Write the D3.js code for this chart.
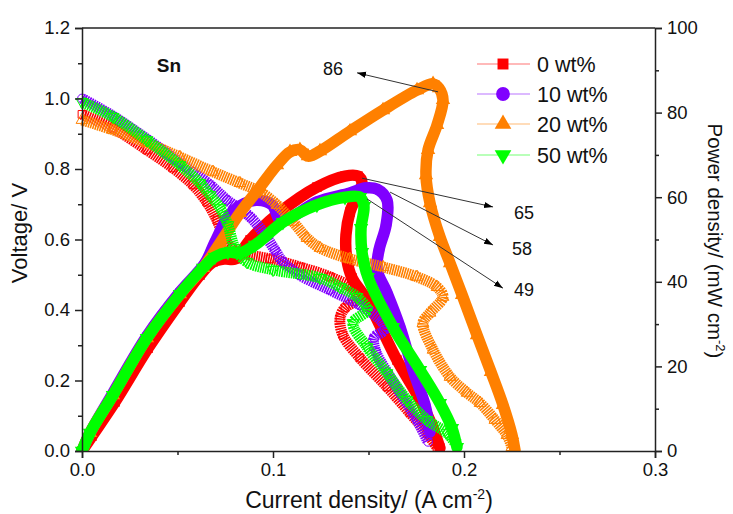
<!DOCTYPE html>
<html><head><meta charset="utf-8">
<script src="https://cdn.jsdelivr.net/npm/d3@7"></script>
<style>body{margin:0;background:#fff} svg{display:block;font-family:"Liberation Sans",Arial,sans-serif}</style>
</head><body><svg id="c" width="733" height="514"></svg>
<script>
const seriesNames = ["0 wt%", "10 wt%", "20 wt%", "50 wt%"];
const seriesColors = ["#ff0000", "#8000ff", "#ff8000", "#00ff00"];
const xTicks = [0, 0.1, 0.2, 0.3];
const xMinor = [0.05, 0.15, 0.25];
const vTicks = [0, 0.2, 0.4, 0.6, 0.8, 1.0, 1.2];
const vMinor = [0.1, 0.3, 0.5, 0.7, 0.9, 1.1];
const pTicks = [0, 20, 40, 60, 80, 100];
const pMinor = [10, 30, 50, 70, 90];

// 0 wt%
const v0_I = [0, 0.0162, 0.034, 0.0476, 0.0581, 0.0654, 0.0707, 0.0738, 0.0785, 0.0853, 0.0984, 0.1141, 0.1298, 0.1414, 0.1445, 0.1377, 0.1351, 0.1366, 0.1455, 0.1597, 0.1717, 0.1806, 0.1859];
const v0_V = [0.955, 0.916, 0.854, 0.803, 0.755, 0.706, 0.655, 0.613, 0.576, 0.559, 0.545, 0.522, 0.494, 0.462, 0.434, 0.406, 0.377, 0.329, 0.264, 0.182, 0.108, 0.051, 0.011];
const p0_I = [0, 0.0052, 0.0173, 0.0346, 0.0513, 0.0618, 0.0686, 0.0749, 0.0801, 0.0880, 0.1037, 0.1230, 0.1377, 0.1445, 0.1466, 0.1435, 0.1403, 0.1382, 0.1387, 0.1414, 0.1492, 0.1649, 0.1770, 0.1832, 0.1874];
const p0_P = [0, 3.5, 11.6, 24.3, 35.2, 41.6, 44.7, 45.4, 45.4, 49.9, 56.5, 62.4, 65.0, 65.0, 63.4, 60.0, 56.5, 51.1, 45.2, 40.9, 35.7, 21.5, 12.1, 6.1, 0.7];
// 10 wt%
const v1_I = [0, 0.0162, 0.034, 0.0513, 0.0581, 0.067, 0.0759, 0.088, 0.0958, 0.101, 0.1052, 0.1141, 0.1298, 0.1455, 0.1571, 0.1581, 0.1529, 0.1539, 0.1597, 0.1665, 0.1754, 0.1812];
const v1_V = [1.0, 0.950, 0.885, 0.817, 0.792, 0.755, 0.712, 0.664, 0.613, 0.570, 0.536, 0.499, 0.457, 0.414, 0.366, 0.343, 0.321, 0.281, 0.224, 0.165, 0.088, 0.026];
const p1_I = [0, 0.0042, 0.0162, 0.034, 0.0513, 0.0644, 0.0696, 0.0775, 0.0853, 0.0921, 0.0995, 0.1037, 0.1089, 0.123, 0.1403, 0.1482, 0.1545, 0.1597, 0.1592, 0.1555, 0.1545, 0.1597, 0.1665, 0.1733, 0.1796, 0.1822];
const p1_P = [0, 4.3, 13.7, 27.2, 37.6, 44.4, 49.4, 56.0, 58.6, 59.3, 58.2, 54.6, 55.1, 58.9, 61.0, 62.2, 61.9, 59.3, 53.4, 47.5, 42.8, 37.4, 29.3, 19.1, 10.9, 4.5];
// 20 wt%
const v2_I = [0, 0.0162, 0.034, 0.0513, 0.0686, 0.0827, 0.0932, 0.1021, 0.1105, 0.1178, 0.1246, 0.1403, 0.1576, 0.1754, 0.1859, 0.189, 0.1822, 0.1785, 0.1838, 0.1927, 0.2016, 0.2084, 0.2162, 0.2225, 0.2251];
const v2_V = [0.939, 0.911, 0.874, 0.834, 0.792, 0.760, 0.735, 0.698, 0.650, 0.604, 0.576, 0.545, 0.522, 0.494, 0.465, 0.437, 0.392, 0.363, 0.287, 0.210, 0.165, 0.136, 0.088, 0.045, 0.011];
const p2_I = [0, 0.0042, 0.0162, 0.034, 0.0513, 0.0634, 0.0723, 0.0827, 0.0932, 0.1021, 0.1089, 0.1141, 0.1183, 0.1246, 0.1403, 0.1576, 0.1754, 0.1838, 0.1869, 0.189, 0.1859, 0.1812, 0.1801, 0.1822, 0.1874, 0.1927, 0.199, 0.2068, 0.2141, 0.2204, 0.2251, 0.2267];
const p2_P = [0, 4.3, 13.2, 26.7, 37.1, 43.3, 49.2, 56.3, 62.4, 67.6, 70.7, 71.2, 69.7, 70.9, 75.6, 80.6, 85.3, 86.8, 85.8, 83.0, 77.1, 71.2, 65.2, 58.6, 50.6, 44.4, 36.9, 27.4, 18.7, 10.9, 3.8, 0.2];
// 50 wt%
const v3_I = [0, 0.0162, 0.034, 0.0513, 0.0618, 0.067, 0.0723, 0.0764, 0.0801, 0.0864, 0.1, 0.1246, 0.1351, 0.144, 0.1492, 0.1419, 0.1492, 0.1597, 0.1702, 0.1806, 0.1911, 0.1953];
const v3_V = [0.99, 0.948, 0.882, 0.811, 0.760, 0.726, 0.689, 0.641, 0.576, 0.536, 0.514, 0.491, 0.465, 0.437, 0.400, 0.363, 0.295, 0.221, 0.145, 0.088, 0.051, 0.023];
const p3_I = [0, 0.0042, 0.0162, 0.034, 0.0513, 0.0634, 0.0696, 0.0764, 0.0827, 0.0906, 0.1052, 0.123, 0.1377, 0.1455, 0.1476, 0.1461, 0.1466, 0.1497, 0.1628, 0.177, 0.1874, 0.1937, 0.1963];
const p3_P = [0, 4.3, 13.2, 26.7, 37.1, 43.3, 45.9, 47.0, 46.8, 48.7, 54.1, 58.2, 60.0, 60.0, 57.9, 52.7, 47.0, 41.1, 29.3, 19.1, 11.3, 5.4, 0.9];

// peak annotations
const annLabels = ["86", "65", "58", "49"];
const annFrom = [[0.1864, 84.9], [0.1466, 64.5], [0.1613, 61.2], [0.1492, 59.6]];
const annTo = [[0.144, 89.4], [0.2152, 57.7], [0.2152, 48.7], [0.2204, 38.5]];
const annAt = [[0.1314, 90.3], [0.2314, 56.3], [0.2304, 47.8], [0.2314, 38.1]];

const svg = d3.select("#c");
const L = 82, R = 655, T = 28, B = 451;
const x = d3.scaleLinear([0, 0.3], [L, R]);
const yV = d3.scaleLinear([0, 1.2], [B, T]);
const yP = d3.scaleLinear([0, 100], [B, T]);

const symbols = [d3.symbolSquare, d3.symbolCircle, d3.symbolTriangle, d3.symbolTriangle];
const rot = [0, 0, 0, 180];

const series = seriesNames.map((n, i) => ({
  name: n, color: seriesColors[i], sym: symbols[i], rot: rot[i],
  v: [v0_I, v1_I, v2_I, v3_I][i].map((c, j) => [c, [v0_V, v1_V, v2_V, v3_V][i][j]]),
  p: [p0_I, p1_I, p2_I, p3_I][i].map((c, j) => [c, [p0_P, p1_P, p2_P, p3_P][i][j]])
}));

const defs = svg.append("defs");
defs.append("clipPath").attr("id", "clip")
  .append("rect").attr("x", L - 12).attr("y", T - 5).attr("width", R - L + 20).attr("height", B - T + 5);
defs.append("marker").attr("id", "arr").attr("viewBox", "0 0 10 10")
  .attr("refX", 10).attr("refY", 5).attr("markerWidth", 9).attr("markerHeight", 9)
  .attr("orient", "auto").attr("markerUnits", "userSpaceOnUse")
  .append("path").attr("d", "M0,1.5 L10,5 L0,8.5 Z").attr("fill", "#000");

const g = svg.append("g").attr("clip-path", "url(#clip)");
const curve = d3.curveCatmullRom.alpha(0.5);
const lineV = d3.line().x(d => x(d[0])).y(d => yV(d[1])).curve(curve);
const lineP = d3.line().x(d => x(d[0])).y(d => yP(d[1])).curve(curve);

series.forEach(s => {
  // voltage: dense hollow markers -> hatched band
  g.append("path").attr("d", lineV(s.v)).attr("fill", "none").attr("stroke", s.color)
    .attr("stroke-width", 11).attr("stroke-dasharray", "1.6 0.8").attr("stroke-linejoin", "round");
  g.append("g").selectAll("path").data(s.v).join("path")
    .attr("d", d3.symbol(s.sym, 60))
    .attr("transform", d => `translate(${x(d[0])},${yV(d[1])}) rotate(${s.rot})`)
    .attr("fill", "none").attr("stroke", s.color).attr("stroke-width", 1);
  // power: dense filled markers -> solid band
  g.append("path").attr("d", lineP(s.p)).attr("fill", "none").attr("stroke", s.color)
    .attr("stroke-width", 11.5).attr("stroke-linejoin", "round").attr("stroke-linecap", "round");
  g.append("g").selectAll("path").data(s.p).join("path")
    .attr("d", d3.symbol(s.sym, 90))
    .attr("transform", d => `translate(${x(d[0])},${yP(d[1])}) rotate(${s.rot})`)
    .attr("fill", s.color);
});

// frame & axes
const axCol = "#222";
svg.append("line").attr("x1", L).attr("x2", R).attr("y1", T).attr("y2", T).attr("stroke", axCol).attr("stroke-width", 1.5);
const fmt1 = d3.format(".1f");
svg.append("g").attr("transform", `translate(0,${B})`)
  .call(d3.axisBottom(x).tickValues(xTicks).tickFormat(fmt1).tickSize(7).tickPadding(5));
svg.append("g").attr("transform", `translate(0,${B})`)
  .call(d3.axisBottom(x).tickValues(xMinor).tickFormat("").tickSize(4)).select(".domain").remove();
svg.append("g").attr("transform", `translate(${L},0)`)
  .call(d3.axisLeft(yV).tickValues(vTicks).tickFormat(fmt1).tickSize(7).tickPadding(5));
svg.append("g").attr("transform", `translate(${L},0)`)
  .call(d3.axisLeft(yV).tickValues(vMinor).tickFormat("").tickSize(4)).select(".domain").remove();
svg.append("g").attr("transform", `translate(${R},0)`)
  .call(d3.axisRight(yP).tickValues(pTicks).tickSize(7).tickPadding(5));
svg.append("g").attr("transform", `translate(${R},0)`)
  .call(d3.axisRight(yP).tickValues(pMinor).tickFormat("").tickSize(4)).select(".domain").remove();
svg.selectAll(".domain").attr("stroke", axCol).attr("stroke-width", 1.5);
svg.selectAll(".tick line").attr("stroke", axCol).attr("stroke-width", 1.5);
svg.selectAll(".tick text").attr("font-size", 18.5).attr("fill", "#111").attr("font-family", "Liberation Sans, Arial, sans-serif");

// titles
const xt = svg.append("text").attr("x", 369).attr("y", 508).attr("text-anchor", "middle")
  .attr("font-size", 23).attr("fill", "#111");
xt.append("tspan").text("Current density/ (A cm");
xt.append("tspan").text("-2").attr("font-size", 14).attr("dy", -9);
xt.append("tspan").text(")").attr("dy", 9);

svg.append("text").attr("transform", "translate(27,233) rotate(-90)").attr("text-anchor", "middle")
  .attr("font-size", 22).attr("fill", "#111").text("Voltage/ V");

const rt = svg.append("text").attr("transform", "translate(708,241) rotate(90)").attr("text-anchor", "middle")
  .attr("font-size", 20.5).attr("fill", "#111");
rt.append("tspan").text("Power density/ (mW cm");
rt.append("tspan").text("-2").attr("font-size", 13).attr("dy", -8);
rt.append("tspan").text(")").attr("dy", 8);

svg.append("text").attr("x", 169).attr("y", 72).attr("text-anchor", "middle")
  .attr("font-size", 19).attr("font-weight", "bold").attr("fill", "#111").text("Sn");

// annotations
annLabels.forEach((t, i) => {
  svg.append("line").attr("x1", x(annFrom[i][0])).attr("y1", yP(annFrom[i][1]))
    .attr("x2", x(annTo[i][0])).attr("y2", yP(annTo[i][1]))
    .attr("stroke", "#333").attr("stroke-width", 1).attr("marker-end", "url(#arr)");
  svg.append("text").attr("x", x(annAt[i][0])).attr("y", yP(annAt[i][1])).attr("dy", "0.35em")
    .attr("text-anchor", "middle").attr("font-size", 18).attr("fill", "#111").text(t);
});

// legend
const rows = [64, 94, 124, 155];
series.forEach((s, i) => {
  const r = svg.append("g").attr("transform", `translate(0,${rows[i]})`);
  r.append("line").attr("x1", 477).attr("x2", 530).attr("stroke", s.color).attr("stroke-opacity", 0.55).attr("stroke-width", 1.2);
  r.append("path").attr("d", d3.symbol(s.sym, i === 1 ? 150 : 120)).attr("fill", s.color)
    .attr("transform", `translate(503,0) rotate(${s.rot})`);
  r.append("text").attr("x", 537).attr("dy", "0.36em").attr("font-size", 21.5).attr("fill", "#111").text(s.name);
});
</script></body></html>
